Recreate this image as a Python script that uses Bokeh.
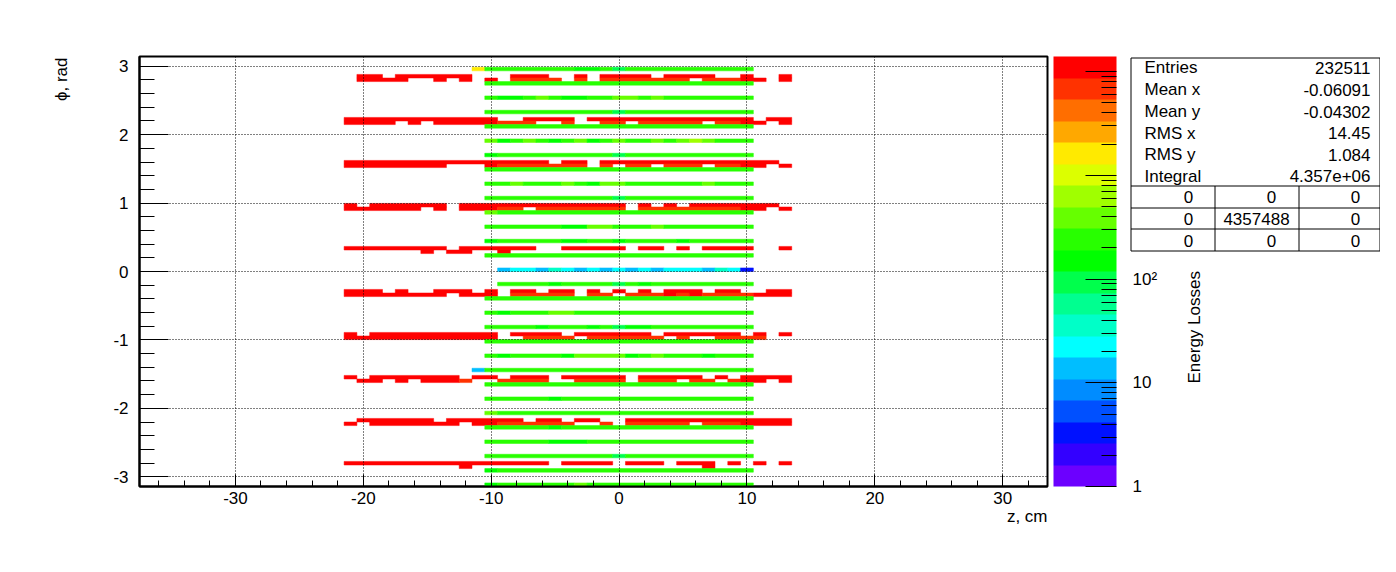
import numpy as np
from bokeh.plotting import figure
from bokeh.layouts import row
from bokeh.models import (ColumnDataSource, LogColorMapper, ColorBar, FixedTicker, Title,
                          SingleIntervalTicker, Range1d)
from bokeh.core.properties import value
from bokeh.transform import transform
from bokeh.embed import file_html
from bokeh.resources import INLINE

# ---------------- data ----------------
Z_MIN, Z_MAX = -37.5, 33.5
PHI_MIN, PHI_MAX = -np.pi, np.pi
N_PHI_BINS = 120
COLOR_MIN, COLOR_MAX = 1.0, 14000.0

# 20 colour levels, bottom (1) -> top
palette = ["#6C00FF", "#3300FF", "#0011FF", "#0050FF", "#008CFF", "#00BEFF", "#00FFFF",
           "#00FFC8", "#00FF90", "#00FF4C", "#00FF00", "#28FF00", "#66FF00", "#A0FF00",
           "#DCFF00", "#FFEA00", "#FFA800", "#FF6E00", "#FF3200", "#FF0000"]

# level code per z-bin ('.' = empty, '0'..'9','A'..'J' = level 0..19)
red_x_first = -21   # z-bin centre of the first character of each outer row
red_rows = {
    114: ".JJ.JJJJJJ...JJJ..J.JJJJ.JJJJ..J..J",
    113: ".JJJJ..J.J.J.IIII.I.IIIIIII.IIIJJ.J",
    102: "JJJJJJJJJJJJ..JJJJ.JJJJJJJJJJJJJ.JJ",
    101: "JJJJ.J.JJJJJIII..I..II.IIIII.IIJJ.J",
    90:  "JJJJJJJJJJJJJJJJ.JJ.JJJJJJJJJJJJJJ.",
    89:  "JJJJJJJJ...JIIIIIII.I.II.III.IIJJ.J",
    78:  "J.JJJJJJ.JJJJJJJJJJJJJ.J.J.JJJJJJJ.",
    77:  "JJJJJJ.J.JJJII.IIIIIII.IIIIIIIIJJ.J",
    66:  "JJJJJJJJ.JJJJJJ..JJJJJ.JJ.J.JJJJ..J",
    65:  "......J.JJ..J......................",
    54:  "JJJ.J..JJJ.J.JJ.JJ.J.J.J.JJJ.JJ..JJ",
    53:  "JJJJJJJJ.JJJ.IIIII.II.IIIJIJIIIIJJJ",
    42:  "J.JJJJJJJJJJ.JJJJ.JJJJJJ.JJJJJJ.J.J",
    41:  "JJJJJJJJJJJJ..IIII.IIIIII.I..IIII..",
    30:  "J.JJJJJJJ.JJ.JJJ.JJJJJ.JJJJJ.J.JJJJ",
    29:  ".JJ.J.JJJI..IIII..IIII.III.II.IJJ.J",
    18:  ".JJJJJJ.JJJJJJ.JJ.JJ..JJJJJJJJJJJJJ",
    17:  "J.JJJJJJJ.JJIIIIII..I.IIIII.IIIJJJJ",
    6:   "JJJJJJJJJJJJJJJJ.JJJJ.JJJ.JJJ.J.J.J",
    5:   ".........J..................J......",
}

green_x_first = -11  # z-bin centre of the first character of each inner row
green_rows = {
    116: "FBBBBBBBAAB9BBBBBBBBBB",
    112: ".BBBBBBBBBBBBBBBBBBBBB",
    108: ".BAABCBAABBCCBCBBBBBBB",
    104: ".BBBBBBBBBB9BBBBBBBBBB",
    100: ".BBBBBBBBBBBBBBBBBBBBB",
    96:  ".CABCBABCABCBBCBCDCBBB",
    92:  ".ABBBBBBBBB9BBBBBBBBBB",
    88:  ".BBBBBBBBBBBBBBBBBBBBB",
    84:  ".BBCBBBCBACCBBBBBBCBBB",
    80:  ".BBBBBBBBBB9BBBBBBBBBB",
    76:  ".CBBBBBBBBBBBBBBBBBBBB",
    72:  ".BBBBBBAACCBBBCBBBBBBB",
    68:  ".ABBBBBAABBABBBBABBBBB",
    64:  ".BBBBBBBBBBBBBBBBBBBBB",
    60:  "..56657656565656665762",
    56:  "..BBBBABBBB9BABBBBBBBB",
    52:  ".BBBBBBBBBBBBBBBBBBBBB",
    48:  ".BABBBCCBBBBBBBBBBBBBB",
    44:  ".BBBBABBBAB9AABBBBBBBB",
    40:  ".BBBBBBBBBBBBBBBBBBBBB",
    36:  ".BABBBBACCCCABCBBBABBB",
    32:  "5BBBBBBBBBBBBBBBBBBBBB",
    28:  ".BBBBBBBBBBBBBBBBBBBBB",
    24:  ".BBBBBABBBBBBBBBBBBBBB",
    20:  ".CBBBBBBBBBBBBBBBBBBBB",
    16:  ".BBBBBABBBBBBBBBBBBBBB",
    12:  ".BBBBBAAABBBBBBBBBBBBB",
    8:   ".BBBBBBBBBB9BBBBBBBBBB",
    4:   ".ABBBBBBBBBBBBBBBBBBBB",
    0:   ".ABBBBBBCBBBBBBBBBBBBB",
}

x_major_ticks = [-30, -20, -10, 0, 10, 20, 30]
y_major_ticks = [-3, -2, -1, 0, 1, 2, 3]
z_major_ticks = [1, 10, 100, 1000, 10000]
z_tick_labels = ["1", "10", "10\u00b2", "", ""]   # 10^3, 10^4 hidden under the stats box

stats_labels = ["Entries", "Mean x", "Mean y", "RMS x", "RMS y", "Integral"]
stats_values = ["232511", "-0.06091", "-0.04302", "14.45", "1.084", "4.357e+06"]
overflow_table = [["0", "0", "0"], ["0", "4357488", "0"], ["0", "0", "0"]]

x_title = "z, cm"
y_title = "\u03d5, rad"
z_title = "Energy Losses"

# ---------------- build the cells ----------------
dphi = (PHI_MAX - PHI_MIN) / N_PHI_BINS
lstep = np.log10(COLOR_MAX / COLOR_MIN) / len(palette)


def level_value(c):
    return COLOR_MIN * 10 ** ((int(c, 20) + 0.5) * lstep)


cells = dict(left=[], right=[], bottom=[], top=[], val=[])
for rows, x0 in ((red_rows, red_x_first), (green_rows, green_x_first)):
    for b, s in rows.items():
        i = 0
        while i < len(s):
            c = s[i]
            if c == ".":
                i += 1
                continue
            j = i
            while j + 1 < len(s) and s[j + 1] == c:
                j += 1
            cells["left"].append(x0 + i - 0.5)
            cells["right"].append(x0 + j + 0.5)
            cells["bottom"].append(PHI_MIN + b * dphi)
            cells["top"].append(PHI_MIN + (b + 1) * dphi)
            cells["val"].append(level_value(c))
            i = j + 1
src = ColumnDataSource(cells)

mapper = LogColorMapper(palette=palette, low=COLOR_MIN, high=COLOR_MAX)

FONT = "Liberation Sans"
FS = "17px"
H = 556
FRAME_TOP, FRAME_BOTTOM = 56, 486


def Y(page_y):
    """page pixel row -> data y in the helper panels (y grows upwards)"""
    return H - page_y


def bare(width, x0, x1):
    # frames of plots in one row are aligned, so these share the main frame's rows
    f = figure(width=width, height=H, x_range=Range1d(x0, x1),
               y_range=Range1d(Y(FRAME_BOTTOM), Y(FRAME_TOP)),
               output_backend="svg", toolbar_location=None, x_axis_location=None,
               y_axis_location=None, min_border_left=0, min_border_right=0,
               min_border_top=FRAME_TOP, min_border_bottom=H - FRAME_BOTTOM,
               outline_line_color=None, background_fill_color="white", border_fill_color="white")
    f.grid.visible = False
    return f


# ---------------- left strip: y title ----------------
p_left = bare(80, 0, 80)
p_left.text(x=[60.5], y=[Y(57)], text=[y_title], angle=np.pi / 2, text_align="right",
            text_baseline="middle", text_font=value(FONT), text_font_size=value(FS), text_color="black")

# ---------------- main histogram ----------------
p = figure(width=970, height=H, x_range=Range1d(Z_MIN, Z_MAX), y_range=Range1d(PHI_MIN, PHI_MAX),
           output_backend="svg", toolbar_location=None,
           min_border_left=59, min_border_right=3, min_border_top=FRAME_TOP,
           min_border_bottom=H - FRAME_BOTTOM,
           background_fill_color="white", border_fill_color="white")

p.quad(left="left", right="right", bottom="bottom", top="top", source=src,
       fill_color=transform("val", mapper), line_color=transform("val", mapper), line_width=0.5)

p.outline_line_color = "black"
p.outline_line_width = 2

p.xaxis.ticker = SingleIntervalTicker(interval=10, num_minor_ticks=5)
p.yaxis.ticker = SingleIntervalTicker(interval=1, num_minor_ticks=5)
p.xaxis.major_label_overrides = {t: str(t) for t in x_major_ticks}
p.yaxis.major_label_overrides = {t: str(t) for t in y_major_ticks}
for ax in (p.xaxis[0], p.yaxis[0]):
    ax.axis_line_width = 2
    ax.axis_line_color = "black"
    ax.major_tick_out = 0
    ax.minor_tick_out = 0
    ax.major_tick_line_color = "black"
    ax.minor_tick_line_color = "black"
    ax.major_label_text_font = FONT
    ax.major_label_text_font_size = FS
    ax.major_label_text_color = "black"
p.xaxis.major_tick_in = 12
p.xaxis.minor_tick_in = 6
p.yaxis.major_tick_in = 29
p.yaxis.minor_tick_in = 15
p.xaxis.major_label_standoff = 5
p.yaxis.major_label_standoff = 11

for g in (p.xgrid[0], p.ygrid[0]):
    g.grid_line_color = "black"
    g.grid_line_dash = "1 2"
    g.grid_line_width = 1
    g.level = "overlay"

p.add_layout(Title(text=x_title, align="right", vertical_align="top", standoff=0, offset=0,
                   text_font=FONT, text_font_size=FS, text_font_style="normal", text_color="black"),
             "below")

# ---------------- right strip: colour scale + statistics ----------------
p_side = bare(330, 1050, 1380)

minor = [m * 10 ** k for k in range(5) for m in range(2, 10) if m * 10 ** k < COLOR_MAX]
cb = ColorBar(color_mapper=mapper, location=(3, 0), width=63, height=430, padding=0, margin=0,
              ticker=FixedTicker(ticks=z_major_ticks, minor_ticks=minor),
              major_label_overrides=dict(zip(z_major_ticks, z_tick_labels)),
              major_label_text_font=FONT, major_label_text_font_size=FS, major_label_text_color="black",
              major_tick_in=31, major_tick_out=0, minor_tick_in=15, minor_tick_out=0,
              major_tick_line_color="black", minor_tick_line_color="black",
              bar_line_color=None, border_line_color=None, background_fill_color=None,
              label_standoff=16)
p_side.add_layout(cb)

p_side.text(x=[1194], y=[Y(383)], text=[z_title], angle=np.pi / 2, text_align="left",
            text_baseline="middle", text_font=value(FONT), text_font_size=value(FS), text_color="black")

# statistics box
BL, BR, BT, BB = 1130.5, 1379.5, 57.5, 250.5
p_side.quad(left=[BL], right=[BR], top=[Y(BT)], bottom=[Y(BB)], fill_color="white",
            line_color="black", line_width=1)
h_lines = [185.5, 207.5, 228.5]
v_lines = [1214.5, 1298.5]
p_side.segment(x0=[BL] * 3 + v_lines, x1=[BR] * 3 + v_lines,
               y0=[Y(v) for v in h_lines] + [Y(h_lines[0])] * 2,
               y1=[Y(v) for v in h_lines] + [Y(BB)] * 2, line_color="black", line_width=1)

row_y = [67.3, 89.3, 111.0, 132.7, 154.0, 175.7]
p_side.text(x=[1144] * 6, y=[Y(v) for v in row_y], text=stats_labels, text_align="left",
            text_baseline="middle", text_font=value(FONT), text_font_size=value(FS), text_color="black")
p_side.text(x=[1370] * 6, y=[Y(v) for v in row_y], text=stats_values, text_align="right",
            text_baseline="middle", text_font=value(FONT), text_font_size=value(FS), text_color="black")

grid_y = [196.7, 218.3, 240.0]
zero_x = [1188, 1271, 1355]
tx, ty, tt = [], [], []
for r in range(3):
    for c in range(3):
        t = overflow_table[r][c]
        tx.append(1256 if t != "0" else zero_x[c])
        ty.append(Y(grid_y[r]))
        tt.append(t)
p_side.text(x=tx, y=ty, text=tt, text_align="center", text_baseline="middle",
            text_font=value(FONT), text_font_size=value(FS), text_color="black")

layout = row(p_left, p, p_side, spacing=0)
open("out.html", "w").write(file_html(layout, INLINE))
